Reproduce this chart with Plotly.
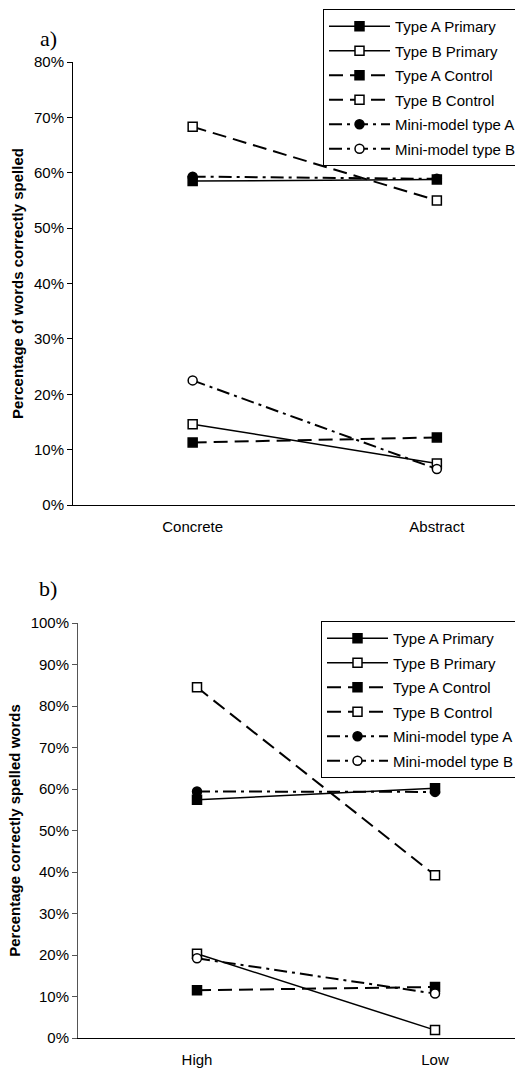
import plotly.graph_objects as go

# ---------------- data ----------------
series_names = ["Type A Primary", "Type B Primary", "Type A Control",
                "Type B Control", "Mini-model type A", "Mini-model type B"]

cat_a = ["Concrete", "Abstract"]
a_typeA_primary = [0.585, 0.588]
a_typeB_primary = [0.146, 0.075]
a_typeA_control = [0.113, 0.122]
a_typeB_control = [0.683, 0.550]
a_mini_A = [0.593, 0.589]
a_mini_B = [0.225, 0.065]

cat_b = ["High", "Low"]
b_typeA_primary = [0.574, 0.602]
b_typeB_primary = [0.203, 0.019]
b_typeA_control = [0.115, 0.123]
b_typeB_control = [0.845, 0.392]
b_mini_A = [0.594, 0.593]
b_mini_B = [0.192, 0.107]

ticks_a = [i / 10 for i in range(0, 9)]
ticks_b = [i / 10 for i in range(0, 11)]

# ---------------- styles ----------------
W, H = 515, 1069
SOLID = "solid"
DASH = "14px,7px"
DASHDOT = "13px,5px,3px,5px"
styles = [
    dict(dash=SOLID, symbol="square", fill="black", width=1.5),
    dict(dash=SOLID, symbol="square", fill="white", width=1.5),
    dict(dash=DASH, symbol="square", fill="black", width=2),
    dict(dash=DASH, symbol="square", fill="white", width=2),
    dict(dash=DASHDOT, symbol="circle", fill="black", width=2),
    dict(dash=DASHDOT, symbol="circle", fill="white", width=2),
]

fig = go.Figure()

def add_series(cats, values_list, xa, ya, legend):
    for name, vals, st in zip(series_names, values_list, styles):
        fig.add_trace(go.Scatter(
            x=cats, y=vals, name=name, mode="lines+markers",
            xaxis=xa, yaxis=ya, legend=legend, legendgroup=legend + name,
            line=dict(color="black", width=st["width"], dash=st["dash"]),
            marker=dict(symbol=st["symbol"], size=9, color=st["fill"],
                        line=dict(color="black", width=1.5)),
            cliponaxis=False,
        ))

add_series(cat_a, [a_typeA_primary, a_typeB_primary, a_typeA_control,
                   a_typeB_control, a_mini_A, a_mini_B], "x", "y", "legend")
add_series(cat_b, [b_typeA_primary, b_typeB_primary, b_typeA_control,
                   b_typeB_control, b_mini_A, b_mini_B], "x2", "y2", "legend2")

def py(px):
    return 1 - px / H

tickfont = dict(family="Liberation Sans, Arial", size=15, color="black")
titlefont = dict(family="Liberation Sans, Arial", size=15, color="black", weight="bold")

legend_common = dict(
    bgcolor="white", bordercolor="black", borderwidth=1,
    font=dict(family="Liberation Sans, Arial", size=15, color="black"),
    xanchor="left", yanchor="top", tracegroupgap=2, itemwidth=61,
)

fig.update_layout(
    width=W, height=H,
    margin=dict(l=0, r=0, t=0, b=0, autoexpand=False),
    paper_bgcolor="white", plot_bgcolor="white",
    xaxis=dict(domain=[73 / W, 1], type="category", range=[-0.49, 1.32],
               showgrid=False, showline=True, linecolor="black", linewidth=1,
               ticks="outside", ticklen=8, tickcolor="rgba(0,0,0,0)",
               tickfont=tickfont, anchor="y", zeroline=False),
    yaxis=dict(domain=[py(505), py(62)], range=[0, 0.8], tickvals=ticks_a,
               tickformat=".0%", showgrid=False, showline=True,
               linecolor="black", linewidth=1, ticks="outside", ticklen=5,
               tickcolor="black", tickfont=tickfont, zeroline=False, anchor="x",
               title=dict(text="Percentage of words correctly spelled",
                          font=titlefont, standoff=6)),
    xaxis2=dict(domain=[78 / W, 1], type="category", range=[-0.5, 1.336],
                showgrid=False, showline=True, linecolor="black", linewidth=1,
                ticks="outside", ticklen=8, tickcolor="rgba(0,0,0,0)",
                tickfont=tickfont, anchor="y2", zeroline=False),
    yaxis2=dict(domain=[py(1038), py(623)], range=[0, 1.0], tickvals=ticks_b,
                tickformat=".0%", showgrid=False, showline=True,
                linecolor="#555555", linewidth=1, ticks="outside", ticklen=5,
                tickcolor="#555555", tickfont=tickfont, zeroline=False, anchor="x2",
                title=dict(text="Percentage correctly spelled words",
                           font=titlefont, standoff=6)),
    legend=dict(x=323 / W, y=py(9), **legend_common),
    legend2=dict(x=321 / W, y=py(621), **legend_common),
    annotations=[
        dict(text="a)", x=38 / W, y=py(38), xref="paper", yref="paper",
             xanchor="left", yanchor="middle", showarrow=False,
             font=dict(family="Liberation Serif, Times New Roman", size=22, color="black")),
        dict(text="b)", x=37 / W, y=py(588), xref="paper", yref="paper",
             xanchor="left", yanchor="middle", showarrow=False,
             font=dict(family="Liberation Serif, Times New Roman", size=22, color="black")),
    ],
)

fig.write_html("out.html",
               config={"displayModeBar": False},
               post_script="document.body.style.margin='0px';document.body.style.overflow='hidden';")
